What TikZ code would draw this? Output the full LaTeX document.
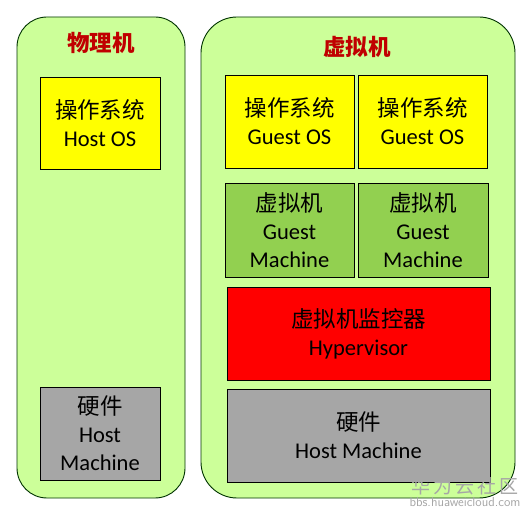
\documentclass[tikz,border=0pt]{standalone}
\usepackage{fontspec}
\setmainfont{Carlito}
\newfontfamily\cjk{Noto Sans CJK SC}
\usepackage{tikz}
\usetikzlibrary{positioning, calc}

\definecolor{panelgreen}{HTML}{CCFF99}
\definecolor{guestgreen}{HTML}{92D050}
\definecolor{osyellow}{HTML}{FFFF00}
\definecolor{hwgray}{HTML}{A6A6A6}
\definecolor{titlered}{HTML}{C00000}

\tikzset{
  panel/.style={draw=black!80!green, line width=0.9pt, fill=panelgreen, rounded corners=#1},
  layer/.style={draw=black, line width=0.8pt, inner sep=0pt, align=center,
    font=\fontsize{22.5}{28}\selectfont},
  paneltitle/.style={text=titlered, font=\cjk\bfseries\fontsize{22.5}{24}\selectfont},
}

\begin{document}
\begin{tikzpicture}[x=1pt, y=-1pt]
  \useasboundingbox[fill=white] (0,0) rectangle (531,516);

  % Rahmen
  \path[panel=30pt] (17,17) rectangle (185,498);
  \path[panel=36pt] (201,17) rectangle (515,498);

  \node[paneltitle] (phys) at (101,43) {物理机};
  \node[paneltitle] (virt) at (357,47) {虚拟机};

  % physische Maschine
  \node[layer, fill=osyellow, minimum width=120, minimum height=92] (hostos) at (100,123)
    {{\cjk 操作系统}\\Host OS};
  \node[layer, fill=hwgray, minimum width=120, minimum height=93] (hosthw) at (100,433.5)
    {{\cjk 硬件}\\Host\\Machine};

  % virtuelle Maschinen
  \node[layer, fill=osyellow, minimum width=129, minimum height=93] (gos1) at (289.5,121.5)
    {{\cjk 操作系统}\\Guest OS};
  \node[layer, fill=osyellow, minimum width=129, minimum height=93] (gos2) at (422.5,121.5)
    {{\cjk 操作系统}\\Guest OS};
  \node[layer, fill=guestgreen, minimum width=129, minimum height=94] (gm1) at (289.5,230)
    {{\cjk 虚拟机}\\Guest\\Machine};
  \node[layer, fill=guestgreen, minimum width=130, minimum height=94] (gm2) at (423,230)
    {{\cjk 虚拟机}\\Guest\\Machine};

  % Hypervisor und Hardware
  \node[layer, fill=red, minimum width=263, minimum height=93] (hyper) at (358.5,333.5)
    {{\cjk 虚拟机监控器}\\Hypervisor};
  \node[layer, fill=hwgray, minimum width=263, minimum height=93] (virthw) at (358.5,435.5)
    {{\cjk 硬件}\\Host Machine};

  % Wasserzeichen
  \node[text=black!35, font=\cjk\fontsize{19}{20}\selectfont] (wm) at (465,486) {华\,为\,云\,社\,区};
  \node[text=black!35, font=\sffamily\fontsize{13}{14}\selectfont, below=-4pt of wm] (wmurl) {bbs.huaweicloud.com};
\end{tikzpicture}
\end{document}
